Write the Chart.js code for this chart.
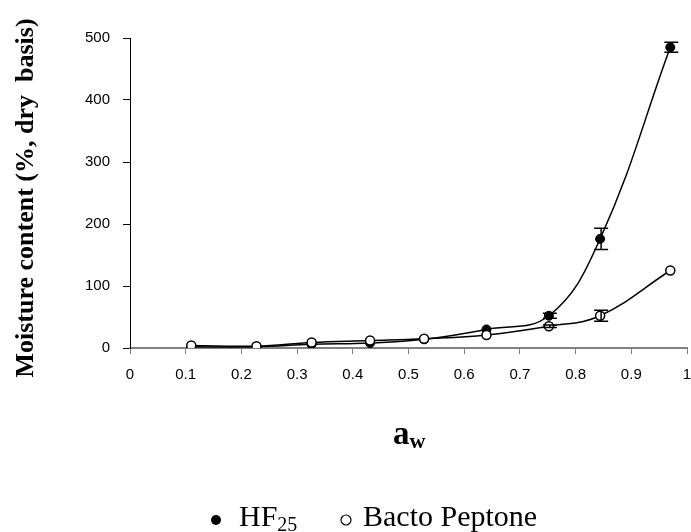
<!DOCTYPE html>
<html>
<head>
<meta charset="utf-8">
<script src="https://cdn.jsdelivr.net/npm/chart.js@4.4.0/dist/chart.umd.min.js"></script>
<style>
  html, body { margin: 0; padding: 0; background: #fff; overflow: hidden; }
  #wrap { width: 691px; height: 532px; position: relative; overflow: hidden; }
</style>
</head>
<body>
<div id="wrap"><canvas id="chart" width="693" height="532"></canvas></div>
<script>
// water activity values (x)
const aw = [0.11, 0.227, 0.326, 0.431, 0.528, 0.64, 0.752, 0.844, 0.97];
// moisture content, % dry basis
const hf25 = [2, 2, 6, 8, 14, 30, 52, 176, 485];
const hf25Err = [0, 0, 0, 0, 0, 0, 4, 17, 8];
const bacto = [4, 3, 9, 12, 15, 21, 35, 52, 125];
const bactoErr = [0, 0, 0, 0, 0, 0, 2, 9, 0];
const xTickLabels = ["0", "0.1", "0.2", "0.3", "0.4", "0.5", "0.6", "0.7", "0.8", "0.9", "1"];
const yTickLabels = ["0", "100", "200", "300", "400", "500"];

const toPts = (xs, ys) => xs.map((x, i) => ({ x: x, y: ys[i] }));

// error bars drawn after the lines
const errorBars = {
  id: "errorBars",
  afterDatasetsDraw(chart) {
    const ctx = chart.ctx;
    const xs = chart.scales.x, ys = chart.scales.y;
    const sets = [hf25, bacto];
    const errs = [hf25Err, bactoErr];
    ctx.save();
    ctx.strokeStyle = "#000";
    ctx.lineWidth = 1.5;
    sets.forEach((vals, k) => {
      vals.forEach((v, i) => {
        const e = errs[k][i];
        if (!e) return;
        const px = xs.getPixelForValue(aw[i]) + 1;
        const top = ys.getPixelForValue(v + e);
        const bot = ys.getPixelForValue(v - e);
        ctx.beginPath();
        ctx.moveTo(px, top); ctx.lineTo(px, bot);
        ctx.moveTo(px - 7, top); ctx.lineTo(px + 7, top);
        ctx.moveTo(px - 7, bot); ctx.lineTo(px + 7, bot);
        ctx.stroke();
      });
    });
    ctx.restore();
  }
};

// axis titles and legend with subscripts
const labels = {
  id: "labels",
  afterDraw(chart) {
    const ctx = chart.ctx;
    ctx.save();
    ctx.fillStyle = "#000";
    ctx.textBaseline = "alphabetic";

    // y title
    ctx.save();
    ctx.translate(33, 198);
    ctx.rotate(-Math.PI / 2);
    ctx.font = "bold 26px 'Liberation Serif', 'Times New Roman', serif";
    ctx.textAlign = "center";
    ctx.fillText("Moisture content (%, dry  basis)", 0, 0);
    ctx.restore();

    // x title a_w
    ctx.textAlign = "left";
    ctx.font = "bold 33px 'Liberation Serif', 'Times New Roman', serif";
    ctx.fillText("a", 393, 444);
    const aW = ctx.measureText("a").width;
    ctx.font = "bold 22px 'Liberation Serif', 'Times New Roman', serif";
    ctx.fillText("w", 393 + aW, 448);

    // legend
    ctx.beginPath();
    ctx.arc(216, 520, 5, 0, Math.PI * 2);
    ctx.fill();
    ctx.font = "30px 'Liberation Serif', 'Times New Roman', serif";
    ctx.fillText("HF", 239, 526);
    const hfW = ctx.measureText("HF").width;
    ctx.font = "20px 'Liberation Serif', 'Times New Roman', serif";
    ctx.fillText("25", 239 + hfW, 531);

    ctx.beginPath();
    ctx.lineWidth = 1.2;
    ctx.strokeStyle = "#000";
    ctx.arc(346, 520, 5, 0, Math.PI * 2);
    ctx.stroke();
    ctx.font = "30px 'Liberation Serif', 'Times New Roman', serif";
    ctx.fillText("Bacto Peptone", 363, 526);
    ctx.restore();
  }
};

new Chart(document.getElementById("chart").getContext("2d"), {
  type: "line",
  data: {
    datasets: [
      {
        label: "HF25",
        data: toPts(aw, hf25),
        borderColor: "#000",
        borderWidth: 1.5,
        backgroundColor: "#000",
        pointBackgroundColor: "#000",
        pointBorderColor: "#000",
        pointRadius: 4.5,
        pointBorderWidth: 1,
        tension: 0.4,
        order: 2
      },
      {
        label: "Bacto Peptone",
        data: toPts(aw, bacto),
        borderColor: "#000",
        borderWidth: 1.5,
        backgroundColor: "#fff",
        pointBackgroundColor: "#fff",
        pointBorderColor: "#000",
        pointRadius: 4.5,
        pointBorderWidth: 1.5,
        tension: 0.4,
        order: 1
      }
    ]
  },
  options: {
    responsive: false,
    animation: false,
    layout: { padding: { top: 38, right: -7, left: 0, bottom: 0 } },
    plugins: { legend: { display: false }, tooltip: { enabled: false } },
    scales: {
      x: {
        type: "linear",
        min: 0, max: 1,
        afterFit: s => { s.height = 184; s.paddingRight = 0; },
        afterBuildTicks: s => { s.ticks = xTickLabels.map(t => ({ value: parseFloat(t) })); },
        ticks: {
          callback: (v, i) => xTickLabels[i],
          color: "#000",
          padding: 12,
          maxRotation: 0,
          font: { family: "'Liberation Sans', Arial, sans-serif", size: 15 }
        },
        grid: { drawOnChartArea: false, tickLength: 6, color: "#808080", lineWidth: 1 },
        border: { color: "#808080", width: 2 }
      },
      y: {
        type: "linear",
        min: 0, max: 500,
        afterFit: s => { s.width = 130; },
        afterBuildTicks: s => { s.ticks = yTickLabels.map(t => ({ value: parseFloat(t) })); },
        ticks: {
          callback: (v, i) => yTickLabels[i],
          color: "#000",
          padding: 13,
          font: { family: "'Liberation Sans', Arial, sans-serif", size: 15 }
        },
        grid: { drawOnChartArea: false, tickLength: 7, color: "#000", lineWidth: 1 },
        border: { color: "#000", width: 1 }
      }
    }
  },
  plugins: [errorBars, labels]
});
</script>
</body>
</html>
